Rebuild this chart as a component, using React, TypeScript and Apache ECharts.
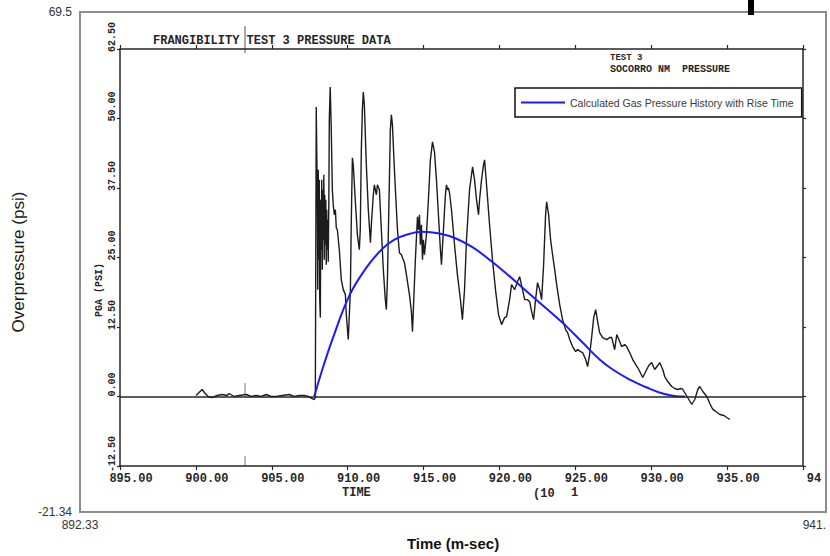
import React, { useEffect, useRef } from "react";
import * as echarts from "echarts";

// Extents of the outer plot box (labelled only at its corners)
const frameTime: number[] = [892.33, 941];
const framePressure: number[] = [-21.34, 69.5];

// Axes of the plotter sheet inside the box
const sheetTime: number[] = [895, 940];
const sheetTimeStep = 5;
const sheetPressure: number[] = [-12.5, 62.5];
const sheetPressureStep = 12.5;

const sheetTitle = "FRANGIBILITY TEST 3 PRESSURE DATA";
const sheetNote = ["TEST 3", "SOCORRO NM  PRESSURE"];
const calcName = "Calculated Gas Pressure History with Rise Time";

// Gauge record, time (ms) vs overpressure (psi)
const measuredBaseline: number[][] = [
  [900.01, 0.18], [900.21, 0.72], [900.41, 1.26], [900.61, 0.54], [900.81, 0.0],
  [901.07, -0.18], [901.4, 0.18], [901.73, 0.36], [902.06, 0.18], [902.19, 0.54],
  [902.52, 0.0], [902.85, 0.18], [903.31, 0.36], [903.64, 0.0], [903.97, 0.18],
  [904.3, 0.0], [904.63, 0.36], [904.96, 0.0], [905.29, 0.0], [905.69, 0.18],
  [906.15, 0.36], [906.48, 0.0], [906.81, 0.18], [907.14, 0.18], [907.4, 0.0],
  [907.67, -0.36], [907.8, -0.54], [907.87, -0.18],
];

const measuredOnset: number[][] = [
  [907.93, 52.08], [908.0, 35.38], [908.03, 19.22], [908.06, 40.77], [908.1, 24.61],
  [908.13, 38.97], [908.16, 17.42], [908.2, 14.19], [908.23, 35.38], [908.26, 26.4],
  [908.29, 38.97], [908.33, 22.81], [908.36, 37.18], [908.39, 28.2], [908.43, 39.87],
  [908.46, 24.61], [908.49, 36.28], [908.53, 27.3], [908.56, 35.38], [908.59, 23.71],
  [908.62, 33.59], [908.66, 26.4], [908.69, 31.79], [908.72, 24.25], [908.76, 35.38],
  [908.79, 49.75], [908.85, 55.68],
];

const measuredPeaks: number[][] = [
  [908.92, 47.95], [908.99, 37.18], [909.05, 34.48], [909.12, 32.69], [909.19, 33.59],
  [909.25, 30.35], [909.32, 29.99], [909.45, 26.4], [909.58, 21.01], [909.71, 19.22],
  [909.85, 18.32], [909.91, 14.73], [910.04, 10.24], [910.18, 19.22], [910.24, 31.79],
  [910.31, 42.92], [910.37, 41.67], [910.5, 35.38], [910.64, 29.1], [910.77, 26.4],
  [910.83, 29.99], [910.9, 44.36], [910.97, 51.55], [911.03, 54.78], [911.1, 52.44],
  [911.23, 41.67], [911.36, 33.59], [911.5, 27.66], [911.56, 30.89], [911.69, 36.28],
  [911.76, 38.08], [911.89, 36.28], [911.96, 38.08], [912.09, 37.18], [912.22, 29.99],
  [912.35, 22.81], [912.48, 17.42], [912.55, 15.63], [912.62, 21.01], [912.75, 38.97],
  [912.81, 47.95], [912.88, 50.65], [912.95, 48.85], [913.08, 40.77], [913.28, 29.99],
  [913.41, 25.86], [913.54, 25.5], [913.74, 24.07], [913.87, 21.91], [914.07, 18.32],
  [914.2, 15.27], [914.27, 11.67], [914.33, 15.63], [914.46, 24.61], [914.6, 32.33],
  [914.66, 29.99], [914.73, 32.69], [914.79, 27.3], [914.86, 30.89], [914.93, 24.61],
  [914.99, 28.2], [915.06, 25.5], [915.19, 29.1], [915.32, 35.38], [915.45, 42.57],
  [915.59, 45.8], [915.72, 44.0], [915.85, 38.97], [915.98, 32.69], [916.11, 26.4],
  [916.18, 23.71], [916.31, 29.99], [916.44, 36.28], [916.51, 38.08], [916.58, 37.18],
  [916.64, 37.54], [916.71, 36.64], [916.84, 33.59], [917.04, 27.3], [917.23, 21.91],
  [917.43, 17.42], [917.56, 13.83], [917.7, 19.22], [917.83, 28.2], [918.03, 37.18],
  [918.23, 41.31], [918.36, 38.97], [918.49, 35.38], [918.62, 32.69], [918.69, 35.38],
  [918.82, 38.97], [918.95, 41.67], [919.02, 42.57], [919.15, 38.08], [919.35, 30.89],
  [919.54, 24.61], [919.74, 19.22], [919.94, 14.73], [920.14, 12.93],
];

const measuredDecay: number[][] = [
  [920.34, 14.19], [920.47, 14.37], [920.67, 17.42], [920.8, 20.12], [921.0, 19.22],
  [921.19, 20.65], [921.33, 21.55], [921.52, 19.22], [921.66, 17.42], [921.85, 17.42],
  [921.99, 17.06], [922.12, 15.27], [922.25, 13.83], [922.38, 17.42], [922.51, 20.47],
  [922.65, 19.22], [922.78, 17.42], [922.91, 23.71], [923.04, 32.69], [923.11, 35.02],
  [923.24, 32.69], [923.37, 28.2], [923.5, 25.5], [923.64, 22.81], [923.77, 20.12],
  [923.97, 16.52], [924.16, 13.83], [924.36, 12.03], [924.49, 11.49], [924.63, 10.24],
  [924.82, 8.98], [925.02, 8.08], [925.15, 8.44], [925.35, 8.08], [925.48, 7.9],
  [925.68, 6.65], [925.81, 5.39], [925.94, 7.54], [926.08, 10.78], [926.21, 14.19],
  [926.34, 15.63], [926.47, 13.47], [926.6, 11.49], [926.8, 10.6], [927.07, 10.24],
  [927.26, 10.6], [927.4, 10.6], [927.59, 8.44], [927.73, 11.14], [927.92, 9.88],
  [928.05, 8.98], [928.25, 9.34], [928.38, 8.98], [928.58, 7.9], [928.78, 6.65],
  [928.98, 5.75], [929.11, 5.21], [929.31, 4.13], [929.44, 3.41], [929.64, 4.49],
  [929.84, 5.57], [930.03, 6.11], [930.23, 4.85], [930.43, 5.57], [930.56, 6.11],
  [930.76, 4.85], [930.89, 3.59], [931.09, 2.69], [931.35, 1.8], [931.55, 1.44],
  [931.75, 1.26], [931.95, 1.44], [932.08, 1.26], [932.28, 0.36], [932.48, -0.54],
  [932.67, -1.44], [932.87, -0.54], [933.07, 1.26], [933.2, 1.8], [933.4, 0.9],
  [933.66, 0.0], [933.86, -1.26], [934.06, -2.33], [934.26, -2.69], [934.52, -3.23],
  [934.79, -3.41], [934.98, -3.77], [935.18, -4.13],
];

// Calculated gas pressure history with rise time
const calculated: number[][] = [
  [907.8, 0], [908.33, 4.85], [908.99, 10.24], [910.11, 18.14], [911.23, 23.17],
  [912.29, 26.58], [913.08, 28.2], [913.87, 29.1], [914.93, 29.63], [916.05, 29.31],
  [917.17, 28.38], [918.22, 26.85], [919.35, 24.61], [920.47, 22.09], [921.52, 19.58],
  [922.65, 16.88], [923.77, 14.19], [924.43, 12.57], [925.48, 9.7], [926.6, 6.65],
  [927.46, 4.85], [928.58, 3.05], [929.71, 1.62], [930.76, 0.54], [931.88, 0],
  [932.21, 0],
];

const measured = [...measuredBaseline, ...measuredOnset, ...measuredPeaks, ...measuredDecay];

const INK = "#262626";
const MONO = '"Liberation Mono", "DejaVu Sans Mono", monospace';
const SANS = '"Liberation Sans", Arial, sans-serif';

const frameLabel = (v: number) => {
  const s = String(Number(v.toFixed(2)));
  return s.includes(".") ? s : s + ".";
};

// the plotter sheet is cut off at the right edge, so the last time label is truncated
const sheetTimeLabel = (v: number) =>
  v >= sheetTime[1] ? v.toFixed(2).slice(0, 2) : v.toFixed(2);

export default function App() {
  const ref = useRef<HTMLDivElement>(null);

  useEffect(() => {
    if (!ref.current) return;
    const chart = echarts.init(ref.current, undefined, { renderer: "svg" });

    const sheetLine = { onZero: false, lineStyle: { color: INK, width: 1.5 } };

    chart.setOption({
      animation: false,
      backgroundColor: "#ffffff",
      textStyle: { fontFamily: SANS },
      grid: [
        {
          left: 80, top: 12, right: 4, bottom: 41,
          show: true, borderColor: "#8c8c8c", borderWidth: 2,
          backgroundColor: "transparent",
        },
        { left: 120, top: 49, right: 27, bottom: 90 },
      ],
      legend: {
        data: [calcName],
        left: 515,
        top: 88,
        padding: [9, 8, 9, 6],
        icon: "rect",
        itemWidth: 44,
        itemHeight: 2,
        borderColor: "#111",
        borderWidth: 1.5,
        backgroundColor: "#ffffff",
        selectedMode: false,
        textStyle: { fontFamily: SANS, fontSize: 10.5, color: "#3a3a3a" },
      },
      xAxis: [
        {
          gridIndex: 0, type: "value",
          min: frameTime[0], max: frameTime[1], interval: frameTime[1] - frameTime[0],
          axisLine: { show: false, onZero: false },
          axisTick: { show: false },
          splitLine: { show: false },
          axisLabel: {
            formatter: frameLabel, margin: 7, fontSize: 12, color: "#333",
            showMinLabel: true, showMaxLabel: true, alignMaxLabel: "right",
          },
          name: "Time (m-sec)",
          nameLocation: "middle",
          nameGap: 22,
          nameTextStyle: { fontFamily: SANS, fontWeight: "bold", fontSize: 15, color: "#111" },
        },
        {
          gridIndex: 1, type: "value", position: "bottom",
          min: sheetTime[0], max: sheetTime[1], interval: sheetTimeStep,
          axisLine: sheetLine,
          axisTick: { length: 4, lineStyle: { color: INK, width: 1.2 } },
          splitLine: { show: false },
          axisLabel: {
            formatter: sheetTimeLabel, margin: 7, padding: [0, 0, 0, 22],
            fontFamily: MONO, fontWeight: "bold", fontSize: 12, color: INK,
            showMinLabel: true, showMaxLabel: true,
          },
        },
        {
          gridIndex: 1, type: "value", position: "top",
          min: sheetTime[0], max: sheetTime[1], interval: sheetTimeStep,
          axisLine: sheetLine,
          axisTick: { length: 4, lineStyle: { color: INK, width: 1.2 } },
          splitLine: { show: false },
          axisLabel: { show: false },
        },
      ],
      yAxis: [
        {
          gridIndex: 0, type: "value",
          min: framePressure[0], max: framePressure[1],
          interval: framePressure[1] - framePressure[0],
          axisLine: { show: false, onZero: false },
          axisTick: { show: false },
          splitLine: { show: false },
          axisLabel: {
            formatter: frameLabel, margin: 8, fontSize: 12, color: "#333",
            showMinLabel: true, showMaxLabel: true,
          },
          name: "Overpressure (psi)",
          nameLocation: "middle",
          nameGap: 53,
          nameTextStyle: { fontFamily: SANS, fontSize: 17, color: "#1a1a1a" },
        },
        {
          gridIndex: 1, type: "value", position: "left",
          min: sheetPressure[0], max: sheetPressure[1], interval: sheetPressureStep,
          axisLine: sheetLine,
          axisTick: { length: 3, lineStyle: { color: INK, width: 1.2 } },
          splitLine: { show: false },
          axisLabel: {
            formatter: (v: number) => v.toFixed(2),
            rotate: 90, margin: 3, padding: [0, 0, 0, 24],
            fontFamily: MONO, fontWeight: "bold", fontSize: 10, color: INK,
            showMinLabel: true, showMaxLabel: true,
          },
        },
        {
          gridIndex: 1, type: "value", position: "right",
          min: sheetPressure[0], max: sheetPressure[1], interval: sheetPressureStep,
          axisLine: sheetLine,
          axisTick: { length: 3, lineStyle: { color: INK, width: 1.2 } },
          splitLine: { show: false },
          axisLabel: { show: false },
        },
      ],
      series: [
        {
          type: "line",
          name: "Measured",
          xAxisIndex: 1,
          yAxisIndex: 1,
          data: measured,
          symbol: "none",
          lineStyle: { color: "#1c1c1c", width: 1.4 },
          itemStyle: { color: "#1c1c1c" },
          z: 3,
          markLine: {
            silent: true,
            symbol: ["none", "none"],
            label: { show: false },
            lineStyle: { color: INK, width: 1.5, type: "solid" },
            data: [{ yAxis: 0 }],
          },
        },
        {
          type: "line",
          name: calcName,
          xAxisIndex: 1,
          yAxisIndex: 1,
          data: calculated,
          symbol: "none",
          smooth: 0.4,
          lineStyle: { color: "#1a1aff", width: 2 },
          itemStyle: { color: "#1a1aff" },
          z: 4,
        },
      ],
      graphic: [
        {
          type: "text", left: 153, top: 35,
          style: { text: sheetTitle, font: `bold 12px ${MONO}`, fill: INK },
        },
        {
          type: "line",
          shape: { x1: 245, y1: 26, x2: 245, y2: 53 },
          style: { stroke: "#555", lineWidth: 1 },
        },
        {
          type: "line",
          shape: { x1: 245, y1: 383, x2: 245, y2: 395 },
          style: { stroke: "#777", lineWidth: 1 },
        },
        {
          type: "line",
          shape: { x1: 245, y1: 456, x2: 245, y2: 466 },
          style: { stroke: "#777", lineWidth: 1 },
        },
        {
          type: "text", left: 610, top: 53,
          style: { text: sheetNote[0], font: `bold 9px ${MONO}`, fill: INK },
        },
        {
          type: "text", left: 610, top: 64,
          style: { text: sheetNote[1], font: `bold 10px ${MONO}`, fill: INK },
        },
        {
          type: "text", x: 99, y: 290, rotation: Math.PI / 2,
          style: {
            text: "PGA (PSI)", font: `bold 10px ${MONO}`, fill: INK,
            textAlign: "center", textVerticalAlign: "middle",
          },
        },
        {
          type: "text", left: 342, top: 487,
          style: { text: "TIME", font: `bold 12px ${MONO}`, fill: INK },
        },
        {
          type: "text", left: 533, top: 488,
          style: { text: "(10", font: `bold 12px ${MONO}`, fill: INK },
        },
        {
          type: "text", left: 571, top: 487,
          style: { text: "1", font: `bold 12px ${MONO}`, fill: INK },
        },
        {
          type: "rect",
          shape: { x: 748, y: 0, width: 6, height: 15 },
          style: { fill: "#000" },
        },
      ],
    });

    return () => chart.dispose();
  }, []);

  return (
    <div
      ref={ref}
      style={{ position: "absolute", left: 0, top: 0, width: 830, height: 556, background: "#fff" }}
    />
  );
}
